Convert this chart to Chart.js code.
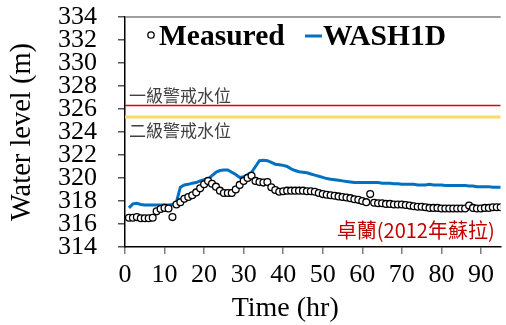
<!DOCTYPE html>
<html><head><meta charset="utf-8">
<script src="https://cdn.jsdelivr.net/npm/chart.js@4"></script>
<style>html,body{margin:0;padding:0;background:#fff}#wrap{width:506px;height:325px}</style>
</head><body><div id="wrap"><canvas id="c" width="506" height="325"></canvas></div>
<script>
const hours = [];
for (let h = 1; h <= 95; h++) hours.push(h);
const measured = [
316.55,316.55,316.6,316.5,316.5,316.5,316.55,317.1,317.3,317.4,
317.35,316.6,317.7,317.9,318.2,318.35,318.5,318.75,319.1,319.45,
319.75,319.5,319.25,318.9,318.7,318.7,318.7,319.0,319.4,319.75,
320.0,320.2,319.75,319.65,319.6,319.65,319.2,318.95,318.8,318.85,
318.9,318.9,318.9,318.9,318.9,318.85,318.85,318.8,318.7,318.6,
318.55,318.5,318.45,318.4,318.35,318.3,318.25,318.15,318.1,318.0,
317.9,318.6,317.85,317.8,317.8,317.75,317.75,317.7,317.7,317.7,
317.65,317.6,317.55,317.5,317.5,317.45,317.4,317.4,317.4,317.35,
317.35,317.35,317.35,317.35,317.35,317.35,317.6,317.4,317.35,317.35,
317.4,317.4,317.45,317.45,317.45];
const wash1d = [
317.4,317.75,317.8,317.7,317.65,317.65,317.65,317.65,317.65,317.65,
317.65,317.7,317.9,319.2,319.4,319.45,319.55,319.6,319.75,319.85,
319.9,320.2,320.5,320.65,320.7,320.7,320.5,320.3,320.05,320.1,
320.3,320.5,321.0,321.5,321.55,321.5,321.35,321.2,321.15,321.1,
321.0,320.8,320.65,320.55,320.5,320.45,320.35,320.25,320.15,320.05,
319.95,319.9,319.85,319.8,319.75,319.7,319.65,319.6,319.6,319.6,
319.6,319.6,319.6,319.6,319.55,319.55,319.55,319.5,319.5,319.45,
319.45,319.45,319.45,319.4,319.4,319.4,319.45,319.4,319.4,319.4,
319.35,319.35,319.35,319.35,319.35,319.35,319.3,319.3,319.25,319.25,
319.25,319.25,319.2,319.2,319.2];
const warningLevels = [326.3, 325.3];
const warningLabels = ['一級警戒水位', '二級警戒水位'];
const seriesLabels = ['Measured', 'WASH1D'];
const siteLabel = '卓蘭(2012年蘇拉)';
const xRange = [0, 95];
const yRange = [314, 334];
const xStep = 10, yStep = 2;
const xTitle = 'Time (hr)';
const yTitle = 'Water level (m)';

const SERIF = '"Liberation Serif", "Times New Roman", serif';
const CJK = '"Noto Sans CJK TC", "Noto Sans CJK SC", sans-serif';

const pts = (arr) => arr.map((v, i) => ({x: hours[i], y: v}));
const levelLine = (v) => [{x: xRange[0], y: v}, {x: xRange[1], y: v}];

const overlay = {
  id: 'overlay',
  afterDraw(chart) {
    const {ctx, chartArea: a, scales: {x, y}} = chart;
    ctx.save();
    ctx.strokeStyle = '#7f7f7f'; ctx.lineWidth = 1.5;
    ctx.beginPath(); ctx.moveTo(a.left, a.top); ctx.lineTo(a.right, a.top); ctx.stroke();
    ctx.fillStyle = '#404040';
    ctx.font = '17px ' + CJK;
    ctx.textAlign = 'left'; ctx.textBaseline = 'middle';
    ctx.fillText(warningLabels[0], a.left + 4, y.getPixelForValue(warningLevels[0]) - 10);
    ctx.fillText(warningLabels[1], a.left + 4, y.getPixelForValue(warningLevels[1]) + 13);
    ctx.fillStyle = '#C00000';
    ctx.font = '20px ' + CJK;
    ctx.textAlign = 'right';
    ctx.fillText(siteLabel, a.right - 6, a.bottom - 17);
    ctx.fillStyle = '#000';
    ctx.font = '28px ' + SERIF;
    ctx.textAlign = 'center'; ctx.textBaseline = 'alphabetic';
    ctx.fillText(xTitle, x.getPixelForValue(40.5), 316);
    const ly = a.top + 19;
    ctx.font = 'bold 29.5px ' + SERIF;
    ctx.textAlign = 'left'; ctx.textBaseline = 'middle';
    const ds0 = chart.data.datasets[0], ds1 = chart.data.datasets[1];
    ctx.beginPath(); ctx.arc(a.left + 26, ly - 1, 3.2, 0, Math.PI * 2);
    ctx.fillStyle = '#fff'; ctx.fill();
    ctx.strokeStyle = ds0.borderColor; ctx.lineWidth = 1.3; ctx.stroke();
    ctx.fillStyle = '#000';
    ctx.fillText(ds0.label, a.left + 34, ly + 1);
    ctx.strokeStyle = ds1.borderColor; ctx.lineWidth = 3;
    ctx.beginPath(); ctx.moveTo(a.left + 180, ly); ctx.lineTo(a.left + 197, ly); ctx.stroke();
    ctx.fillText(ds1.label, a.left + 198, ly + 1);
    ctx.restore();
  }
};

new Chart(document.getElementById('c'), {
  type: 'scatter',
  data: {
    datasets: [
      {label: seriesLabels[0], data: pts(measured), showLine: false, pointStyle: 'circle',
       pointRadius: 3.4, pointBorderWidth: 1.3, borderColor: '#000', backgroundColor: '#fff', order: 0},
      {label: seriesLabels[1], data: pts(wash1d), showLine: true, pointRadius: 0,
       borderColor: '#0070C0', borderWidth: 3, tension: 0, order: 1},
      {label: 'L1', data: levelLine(warningLevels[0]), showLine: true, pointRadius: 0,
       borderColor: '#E00000', borderWidth: 1.5, order: 2},
      {label: 'L2', data: levelLine(warningLevels[1]), showLine: true, pointRadius: 0,
       borderColor: '#FFD966', borderWidth: 3, order: 3}
    ]
  },
  options: {
    responsive: false, animation: false, devicePixelRatio: 1,
    layout: {padding: {top: 17, left: 0, right: 0, bottom: 0}},
    plugins: {legend: {display: false}, tooltip: {enabled: false}},
    scales: {
      x: {
        type: 'linear', min: xRange[0], max: xRange[1],
        afterBuildTicks(s) { s.ticks = s.ticks.filter(t => t.value % xStep === 0); },
        afterFit(s) { s.height = 78; s.paddingRight = 0; },
        ticks: {stepSize: xStep, includeBounds: false, autoSkip: false, maxRotation: 0, color: '#000', padding: 6,
                font: {family: SERIF, size: 26}},
        grid: {drawOnChartArea: false, drawTicks: true, tickLength: 7, color: '#7f7f7f', lineWidth: 1.5},
        border: {color: '#000', width: 1.5}
      },
      y: {
        type: 'linear', min: yRange[0], max: yRange[1],
        afterFit(s) { s.width = 125; s.paddingTop = 13; s.paddingBottom = 13; },
        ticks: {stepSize: yStep, autoSkip: false, color: '#000', padding: 21, font: {family: SERIF, size: 26, lineHeight: 1}},
        grid: {drawOnChartArea: false, drawTicks: true, tickLength: 7, color: '#555', lineWidth: 1.5},
        border: {color: '#000', width: 1.5},
        title: {display: true, text: yTitle, color: '#000', padding: {top: 8, bottom: 0},
                font: {family: SERIF, size: 28.5, lineHeight: 1}}
      }
    }
  },
  plugins: [overlay]
});
</script></body></html>
